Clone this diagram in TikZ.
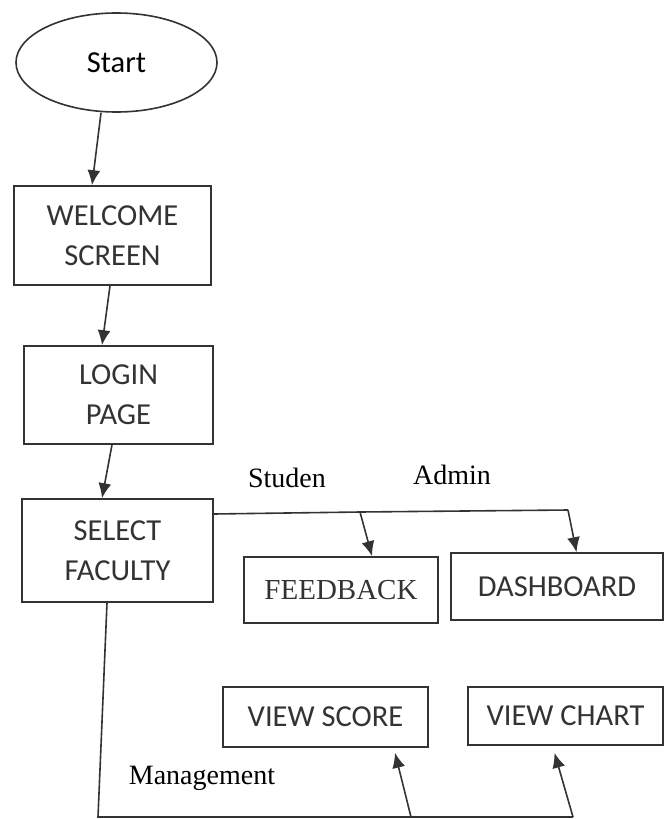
\documentclass[tikz,border=0pt]{standalone}
\usepackage{fontspec}
\setmainfont{Carlito}
\newfontfamily\timesfont{Liberation Serif}
\usetikzlibrary{arrows.meta,positioning,shapes.geometric}

\begin{document}
\begin{tikzpicture}[x=1pt, y=-1pt, line width=1.6pt, color=black!80, arr/.style={-{Latex[length=15pt,width=13pt]}},
	box/.style={shape=rectangle, draw, inner sep=0, align=center, font=\fontsize{30.5}{40}\selectfont},
	startnode/.style={shape=ellipse, draw, inner sep=0, text=black, font=\fontsize{30.5}{36}\selectfont},
	lbl/.style={inner sep=0, text=black, font=\timesfont\fontsize{28}{32}\selectfont}]
				\useasboundingbox (0,0) rectangle (665,819);
				\node[startnode, minimum width=201pt, minimum height=99pt] (start) at (116.5,62.5) {Start};
				\node[box, minimum width=197pt, minimum height=99pt] (welcome) at (112.5,235.5) {WELCOME\\SCREEN};
				\node[box, minimum width=189pt, minimum height=98pt] (login) at (118.5,395) {LOGIN\\PAGE};
				\node[box, minimum width=191pt, minimum height=103pt] (select) at (117.5,550.5) {SELECT\\FACULTY};
				\node[box, minimum width=194pt, minimum height=66pt, font=\timesfont\fontsize{29}{32}\selectfont] (feedback) at (341,590) {FEEDBACK};
				\node[box, minimum width=212pt, minimum height=67pt] (dashboard) at (557,586.5) {DASHBOARD};
				\node[box, minimum width=205pt, minimum height=60pt] (viewscore) at (325.5,717) {VIEW SCORE};
				\node[box, minimum width=195pt, minimum height=58pt] (viewchart) at (565.5,716) {VIEW CHART};
				\node[lbl] (studen) at (287,478) {Studen};
				\node[lbl] (admin) at (452,475) {Admin};
				\node[lbl] (management) at (202,778) {Management};
				\coordinate (stu) at (360,512);
				\coordinate (adm) at (568,510);
				\coordinate (mgt) at (98,817);
				\coordinate (vs) at (411,817);
				\coordinate (vc) at (573,817);
				\draw[arr] ([xshift=-15.5pt]start.south) -- ([xshift=-20.5pt]welcome.north);
				\draw[arr] ([xshift=-2.5pt]welcome.south) -- ([xshift=-16.5pt]login.north);
				\draw[arr] ([xshift=-6.5pt]login.south) -- ([xshift=-15.5pt]select.north);
				\draw ([yshift=36.5pt]select.east) -- (stu) -- (adm);
				\draw[arr] (stu) -- ([xshift=31pt]feedback.north);
				\draw[arr] (adm) -- ([xshift=19.5pt]dashboard.north);
				\draw ([xshift=-10.5pt]select.south) -- (mgt) -- (vc);
				\draw[arr] (vs) -- ([xshift=69.5pt,yshift=-5pt]viewscore.south);
				\draw[arr] (vc) -- ([xshift=-11pt,yshift=-7pt]viewchart.south);
			\end{tikzpicture}
\end{document}
